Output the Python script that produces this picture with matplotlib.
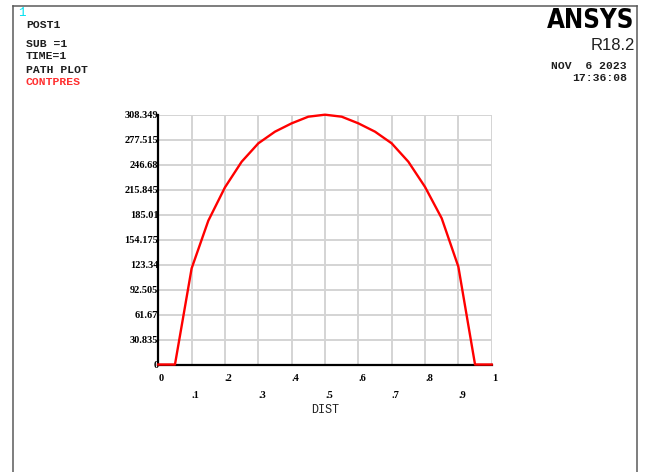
import matplotlib
matplotlib.use('Agg')
import matplotlib.pyplot as plt
from matplotlib.lines import Line2D

# path data: contact pressure along the normalised path
dist = [0.0, 0.05, 0.1, 0.15, 0.2, 0.25, 0.3, 0.35, 0.4, 0.45, 0.5,
        0.55, 0.6, 0.65, 0.7, 0.75, 0.8, 0.85, 0.9, 0.95, 1.0]
contpres = [0.0, 0.0, 118.7, 177.5, 218.7, 250.3, 273.0, 287.4, 297.7, 305.9, 308.349,
            305.9, 297.7, 287.4, 273.0, 250.3, 219.2, 180.5, 120.7, 0.0, 0.0]

y_max = 308.349
y_ticks = [i * 30.8349 for i in range(11)]
y_labels = ['0', '30.835', '61.67', '92.505', '123.34', '154.175',
            '185.01', '215.845', '246.68', '277.515', '308.349']
x_major = [0.0, 0.2, 0.4, 0.6, 0.8, 1.0]
x_major_labels = ['0', '.2', '.4', '.6', '.8', '1']
x_minor = [0.1, 0.3, 0.5, 0.7, 0.9]
x_minor_labels = ['.1', '.3', '.5', '.7', '.9']

header = ['POST1', '', 'SUB =1', 'TIME=1', 'PATH PLOT']

W, H = 646, 472
fig = plt.figure(figsize=(W / 100, H / 100), dpi=100)
fig.patch.set_facecolor('white')

# outer window frame
frame_kw = dict(color='#5a5a5a', lw=1.1, transform=fig.transFigure)
fig.add_artist(Line2D([12.5 / W, 12.5 / W], [0, 1 - 5.5 / H], **frame_kw))
fig.add_artist(Line2D([12.5 / W, 636.5 / W], [1 - 5.5 / H, 1 - 5.5 / H], **frame_kw))
fig.add_artist(Line2D([636.5 / W, 636.5 / W], [0, 1 - 5.5 / H], **frame_kw))

ax = fig.add_axes([158.3 / W, 107.5 / H, 333.4 / W, 249.8 / H])
ax.set_xlim(0, 1)
ax.set_ylim(0, y_max)
for s in ax.spines.values():
    s.set_visible(False)

tick_font = dict(family='Liberation Serif', weight='bold', size=7.5)
ax.set_yticks(y_ticks)
ax.set_yticklabels(y_labels, **tick_font)
ax.set_xticks(x_major)
ax.set_xticklabels(x_major_labels, ha='left', **tick_font)
ax.set_xticks(x_minor, minor=True)
ax.set_xticklabels(x_minor_labels, minor=True, ha='left', **tick_font)
ax.tick_params(axis='y', length=0, pad=0)
ax.tick_params(axis='x', which='major', length=0, pad=7)
ax.tick_params(axis='x', which='minor', length=0, pad=19)

ax.grid(True, which='both', color='#d4d4d4', lw=1.4)
ax.set_axisbelow(True)

# black base lines of the plot
ax.plot([0, 0], [0, y_max], color='black', lw=1.6, clip_on=False, zorder=3)
ax.plot([0, 1], [0, 0], color='black', lw=1.6, clip_on=False, zorder=3)

ax.plot(dist, contpres, color='#ff0000', lw=1.7, clip_on=False, zorder=4)

ax.set_xlabel('DIST', family='Liberation Mono', size=8.5, labelpad=3,
              color='#202020')

# header block
fig.text(18 / W, 1 - 13 / H, '1', color='#00e0f0', family='Liberation Mono',
         size=9, va='center')
mono = dict(family='Liberation Mono', weight='bold', size=8.2, va='center', color='#1e1e1e')
rows = [25, 35, 44, 56, 70]
for txt, y in zip(header, rows):
    if txt:
        fig.text(26 / W, 1 - y / H, txt, **mono)
fig.text(26 / W, 1 - 82 / H, 'CONTPRES', **{**mono, 'color': '#ff3030'})

fig.text(634 / W, 1 - 21 / H, 'ANSYS', family='DejaVu Sans', stretch='condensed',
         weight='bold', size=18.5, ha='right', va='center', color='black')
fig.text(635 / W, 1 - 46 / H, 'R18.2', family='Liberation Sans', size=12,
         ha='right', va='center', color='#202020')
fig.text(627 / W, 1 - 66 / H, 'NOV  6 2023', **{**mono, 'ha': 'right'})
fig.text(627 / W, 1 - 78 / H, '17:36:08', **{**mono, 'ha': 'right'})

fig.savefig('out.png', dpi=100)
